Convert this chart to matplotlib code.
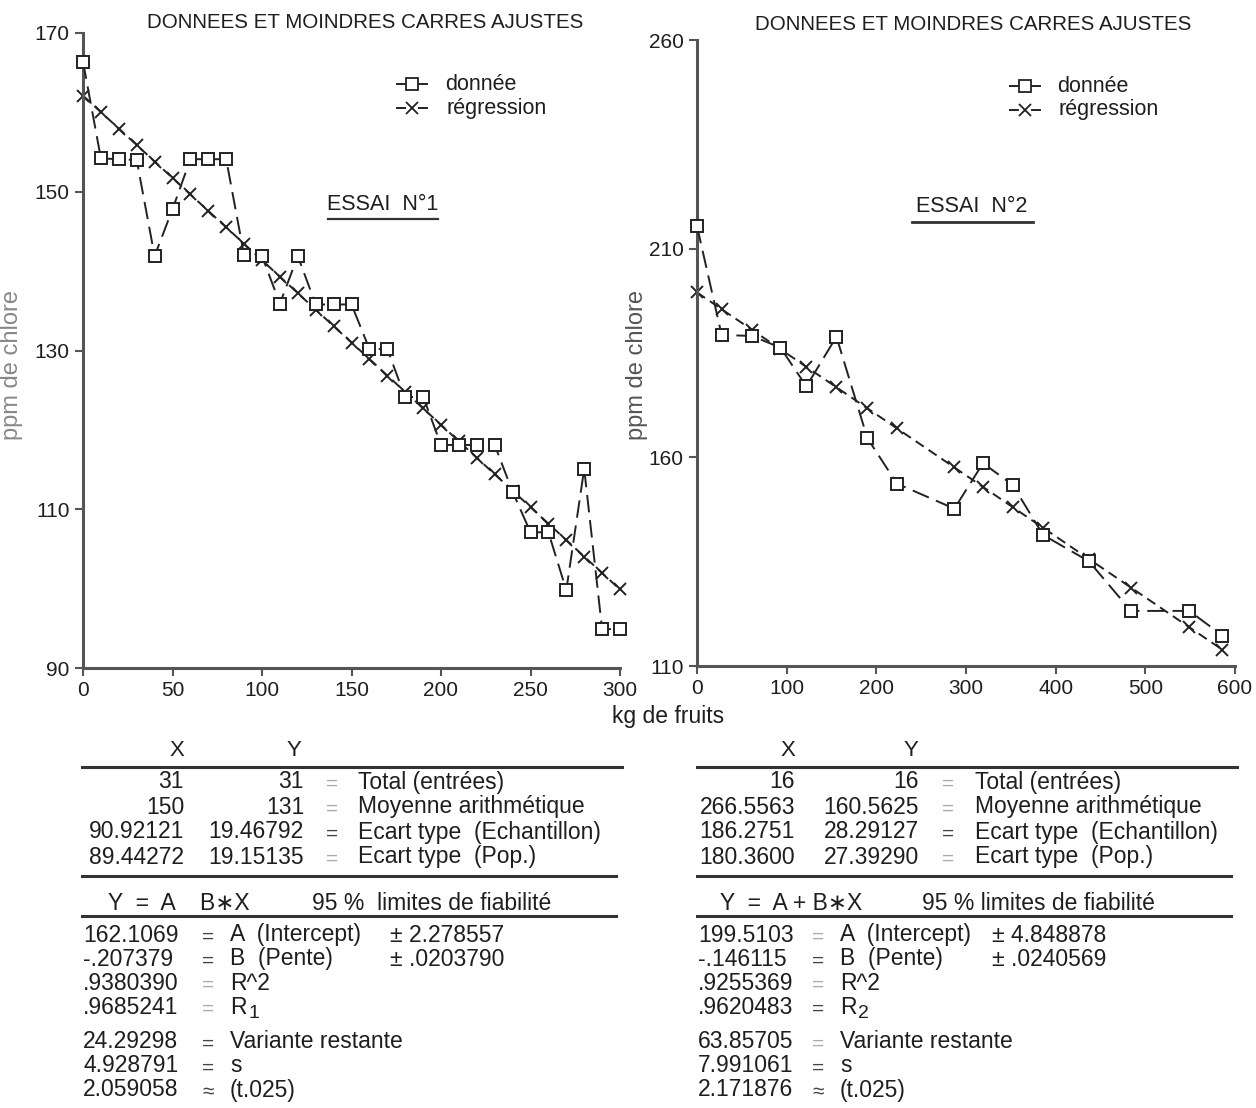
import matplotlib.pyplot as plt
from matplotlib.lines import Line2D

W, H = 1256, 1108
FAM = ['Liberation Sans', 'DejaVu Sans']
plt.rcParams['font.family'] = FAM

# essai 1 : kg de fruits / ppm de chlore
x1 = [0, 10, 20, 30, 40, 50, 60, 70, 80, 90, 100, 110, 120, 130, 140, 150,
      160, 170, 180, 190, 200, 210, 220, 230, 240, 250, 260, 270, 280, 290, 300]
y1 = [166.4, 154.2, 154.1, 154.0, 141.9, 147.8, 154.1, 154.1, 154.1, 142.0, 141.9,
      135.9, 141.9, 135.8, 135.8, 135.8, 130.2, 130.2, 124.1, 124.2, 118.1, 118.1,
      118.1, 118.1, 112.2, 107.1, 107.1, 99.8, 115.1, 94.9, 94.9]
reg1 = [162.11, 160.03, 157.96, 155.89, 153.81, 151.74, 149.66, 147.59, 145.52,
        143.44, 141.37, 139.30, 137.22, 135.15, 133.07, 131.00, 128.93, 126.85,
        124.78, 122.71, 120.63, 118.56, 116.48, 114.41, 112.34, 110.26, 108.19,
        106.12, 104.04, 101.97, 99.89]

# essai 2
x2 = [0, 27.5, 61, 93, 122, 155.5, 190, 223, 287, 319, 352, 386, 437, 484, 549, 586]
y2 = [215.4, 189.3, 189.1, 186.3, 177.0, 188.9, 164.6, 153.7, 147.7, 158.6, 153.4,
      141.4, 135.1, 123.2, 123.2, 117.3]
reg2 = [199.51, 195.49, 190.60, 185.92, 181.68, 176.79, 171.75, 166.93, 157.58,
        152.90, 148.08, 143.11, 135.66, 128.79, 119.29, 113.89]

xticks1 = [0, 50, 100, 150, 200, 250, 300]
yticks1 = [90, 110, 130, 150, 170]
xticks2 = [0, 100, 200, 300, 400, 500, 600]
yticks2 = [110, 160, 210, 260]

# tableaux
stats1 = [('31', '31', 'Total (entrées)'),
          ('150', '131', 'Moyenne arithmétique'),
          ('90.92121', '19.46792', 'Ecart type  (Echantillon)'),
          ('89.44272', '19.15135', 'Ecart type  (Pop.)')]
stats2 = [('16', '16', 'Total (entrées)'),
          ('266.5563', '160.5625', 'Moyenne arithmétique'),
          ('186.2751', '28.29127', 'Ecart type  (Echantillon)'),
          ('180.3600', '27.39290', 'Ecart type  (Pop.)')]
fit1 = [('162.1069', '=', 'A  (Intercept)', '± 2.278557'),
        ('-.207379', '=', 'B  (Pente)', '± .0203790'),
        ('.9380390', '=', 'R^2', ''),
        ('.9685241', '=', 'R', '1'),
        ('24.29298', '=', 'Variante restante', ''),
        ('4.928791', '=', 's', ''),
        ('2.059058', '≈', '(t.025)', '')]
fit2 = [('199.5103', '=', 'A  (Intercept)', '± 4.848878'),
        ('-.146115', '=', 'B  (Pente)', '± .0240569'),
        ('.9255369', '=', 'R^2', ''),
        ('.9620483', '=', 'R', '2'),
        ('63.85705', '=', 'Variante restante', ''),
        ('7.991061', '=', 's', ''),
        ('2.171876', '≈', '(t.025)', '')]

fig = plt.figure(figsize=(W / 100, H / 100), dpi=100)


def fx(x):
    return x / W


def fy(y):
    return 1 - y / H


def txt(x, y, s, size=16.5, ha='left', color='#1e1e1e'):
    fig.text(fx(x), fy(y), s, fontsize=size, ha=ha, va='center', color=color)


def hline(x0, x1_, y, lw=2.2):
    fig.add_artist(Line2D([fx(x0), fx(x1_)], [fy(y), fy(y)], color='#333333', lw=lw))


def make_axes(rect, xs, ys, reg, xt, yt, xlim, ylim):
    ax = fig.add_axes(rect)
    ax.plot(xs, ys, color='#222222', lw=1.4, dashes=(9, 4), marker='s', ms=9,
            mfc='white', mec='#222222', mew=1.4, clip_on=False, zorder=3)
    ax.plot(xs, reg, color='#222222', lw=1.4, dashes=(5, 3), marker='x', ms=9,
            mew=1.4, clip_on=False, zorder=2)
    ax.set_xlim(*xlim)
    ax.set_ylim(*ylim)
    ax.set_xticks(xt)
    ax.set_yticks(yt)
    for side in ['top', 'right']:
        ax.spines[side].set_visible(False)
    for side in ['left', 'bottom']:
        ax.spines[side].set_linewidth(2.2)
        ax.spines[side].set_color('#555555')
    ax.tick_params(labelsize=15, colors='#555555', labelcolor='#1e1e1e',
                   width=1.5, length=6)
    ax.patch.set_alpha(0)
    return ax


ax1 = make_axes([fx(83), fy(668), (620 - 83) / W, (668 - 33) / H],
                x1, y1, reg1, xticks1, yticks1, (0, 300), (90, 170))
ax2 = make_axes([fx(697), fy(666), (1235 - 697) / W, (666 - 40) / H],
                x2, y2, reg2, xticks2, yticks2, (0, 600), (110, 260))

# titres et etiquettes
txt(365, 22, 'DONNEES ET MOINDRES CARRES AJUSTES', 14.8, 'center')
txt(973, 24, 'DONNEES ET MOINDRES CARRES AJUSTES', 14.8, 'center')
txt(668, 716, 'kg de fruits', 16.5, 'center')
fig.text(fx(12), fy(365), 'ppm de chlore', rotation=90, fontsize=17,
         ha='center', va='center', color='#888888')
fig.text(fx(637), fy(365), 'ppm de chlore', rotation=90, fontsize=17,
         ha='center', va='center', color='#555555')

txt(383, 205, 'ESSAI  N°1', 15.5, 'center')
hline(328, 438, 219, 1.6)
txt(972, 207, 'ESSAI  N°2', 15.5, 'center')
hline(912, 1033, 222, 2)

# legendes
for (lx, ly, tx) in [(397, 84, 445), (1010, 86, 1057)]:
    for y, m in [(ly, 's'), (ly + 24, 'x')]:
        fig.add_artist(Line2D([fx(lx), fx(lx + 8)], [fy(y), fy(y)], color='#222222', lw=1.4))
        fig.add_artist(Line2D([fx(lx + 22), fx(lx + 30)], [fy(y), fy(y)], color='#222222', lw=1.4))
        fig.add_artist(Line2D([fx(lx + 15)], [fy(y)], marker=m, ms=8, mfc='white',
                              mec='#222222', mew=1.3))
    txt(tx, ly, 'donnée', 15.5)
    txt(tx + 2, ly + 24, 'régression', 15.5)


def table(x0, x1_, xr, yr, xeq, xlab, stats, head, xhead, fit, xfe, xa, xpm, faint):
    txt(xhead[0], 750, 'X', 16, 'center')
    txt(xhead[1], 750, 'Y', 16, 'center')
    hline(x0, x1_, 767)
    for i, (a, b, lab) in enumerate(stats):
        y = 782 + 25 * i
        txt(xr, y, a, 16.5, 'right')
        txt(yr, y, b, 16.5, 'right')
        txt(xeq, y + 2, '=', 15, 'center', '#aaaaaa' if i != 2 else '#444444')
        txt(xlab, y, lab)
    hline(x0, x1_ - 6, 876)
    txt(xhead[2], 903, head[0])
    txt(xhead[3], 903, head[1])
    hline(x0, x1_ - 6, 916)
    ys = [935, 959, 983, 1007, 1042, 1066, 1090]
    for i, (v, eq, lab, extra) in enumerate(fit):
        txt(x0 + 1, ys[i], v)
        txt(xfe, ys[i] + 2, eq, 15, 'center', '#aaaaaa' if i in faint else '#444444')
        txt(xa, ys[i], lab)
        if extra.startswith('±'):
            txt(xpm, ys[i], extra)
        elif extra:
            txt(xa + 18, ys[i] + 6, extra, 14)


table(82, 622, 184, 304, 332, 358, stats1,
      ('Y  =  A    B∗X', '95 %  limites de fiabilité'), (177, 294, 108, 312),
      fit1, 208, 230, 390, [2, 3])
table(697, 1237, 795, 919, 948, 975, stats2,
      ('Y  =  A + B∗X', '95 % limites de fiabilité'), (788, 911, 720, 922),
      fit2, 818, 840, 992, [0, 2, 4])

fig.savefig('out.png', dpi=100)
